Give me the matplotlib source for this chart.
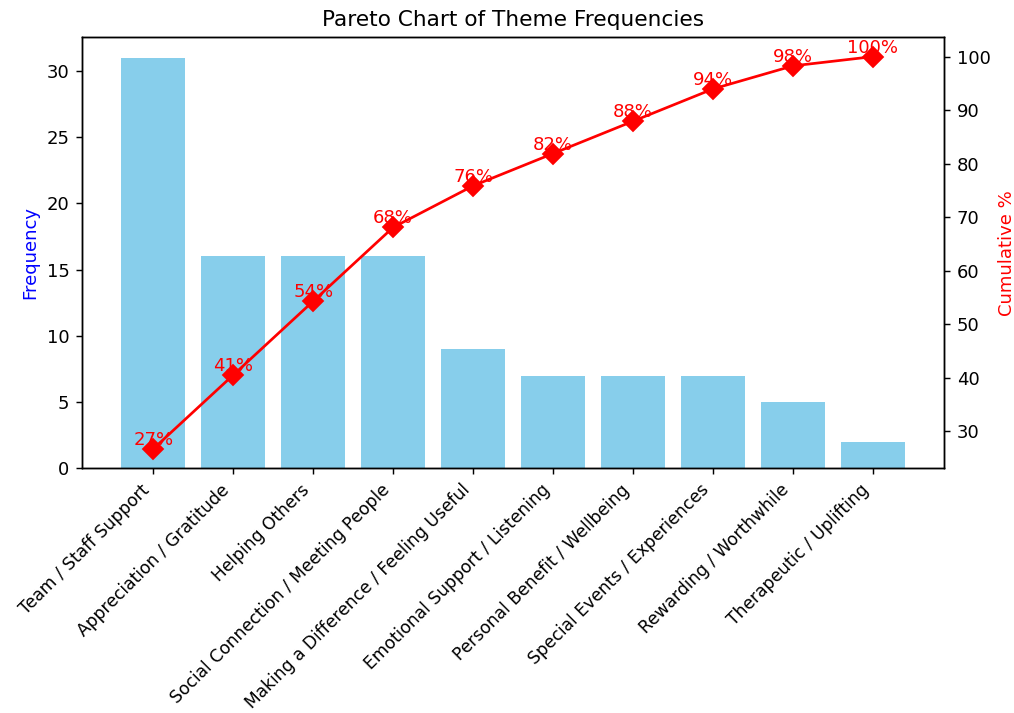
import matplotlib.pyplot as plt
import numpy as np

# theme counts
themes = ["Team / Staff Support", "Appreciation / Gratitude", "Helping Others",
          "Social Connection / Meeting People", "Making a Difference / Feeling Useful",
          "Emotional Support / Listening", "Personal Benefit / Wellbeing",
          "Special Events / Experiences", "Rewarding / Worthwhile", "Therapeutic / Uplifting"]
counts = [31, 16, 16, 16, 9, 7, 7, 7, 5, 2]

cum_pct = np.cumsum(counts) / np.sum(counts) * 100

fig, ax1 = plt.subplots(figsize=(7.8, 5.485), dpi=130)
ax1.bar(themes, counts, color="skyblue")
ax1.set_ylabel("Frequency", color="blue")
ax1.set_xticks(range(len(themes)))
ax1.set_xticklabels(themes, rotation=45, ha="right", fontsize=9.5)

ax2 = ax1.twinx()
ax2.plot(themes, cum_pct, color="red", marker="D", markersize=8)
ax2.set_ylabel("Cumulative %", color="red")
for i, p in enumerate(cum_pct):
    ax2.text(i, p, f"{p:.0f}%", ha="center", va="bottom", color="red")

plt.title("Pareto Chart of Theme Frequencies")
plt.subplots_adjust(left=0.081, right=0.931, top=0.948, bottom=0.343)
plt.savefig("out.png")
